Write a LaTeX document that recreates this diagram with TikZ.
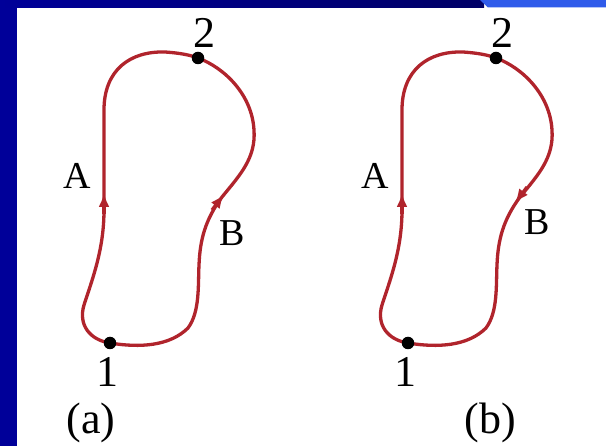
\documentclass[tikz,border=0pt]{standalone}
\usepackage{fontspec}
\setmainfont{Liberation Serif}
\usepackage{tikz}
\usetikzlibrary{arrows.meta}
\usepackage{xcolor}
\definecolor{slideBlue}{HTML}{000099}
\definecolor{slideNavy}{HTML}{000066}
\definecolor{slideLight}{HTML}{2F5BEA}
\definecolor{pathRed}{HTML}{B0242C}

\begin{document}
\begin{tikzpicture}[
    x=1pt, y=-1pt,
    curve/.style={draw=pathRed, line width=3.3pt},
    tip/.style={-{Latex[length=14pt, width=11pt]}, pathRed, line width=3.3pt},
    dot/.style={circle, fill=black, inner sep=0pt, minimum size=12.5pt},
    letter/.style={font=\fontsize{38}{42}\selectfont},
    num/.style={font=\fontsize{44}{48}\selectfont},
    caption/.style={font=\fontsize{44}{48}\selectfont}
  ]
    % slide frame
    \path[use as bounding box, fill=white] (0,0) rectangle (606,446);
    \fill[slideBlue] (0,0) rectangle (17,446);
    \shade[left color=slideBlue, right color=slideNavy] (0,0) rectangle (484,7.5);
    \fill[slideLight] (480,0) -- (488,7.5) -- (606,7.5) -- (606,0) -- cycle;

    % the two loops
    \foreach \sh/\nm in {0/a, 298/b} {
      \begin{scope}[xshift=\sh pt]
        \coordinate (one\nm) at (110,343);
        \coordinate (two\nm) at (198,58);
        \draw[curve] (one\nm) .. controls (90,340) and (78,325) .. (84,305)
          .. controls (92,280) and (104,250) .. (104,210) -- (104,110)
          .. controls (104,70) and (130,51) .. (165,52)
          .. controls (180,53) and (190,55) .. (two\nm);
        \draw[curve] (one\nm) .. controls (140,348) and (170,346) .. (188,328)
          .. controls (200,312) and (198,285) .. (199,265)
          .. controls (200,240) and (205,220) .. (222,197)
          .. controls (240,175) and (256,158) .. (254,130)
          .. controls (252,95) and (225,68) .. (two\nm);
        \draw[tip] (104,214) -- (104,193);
        \node[dot] (p1\nm) at (one\nm) {};
        \node[dot] (p2\nm) at (two\nm) {};
        \node[num] (n1\nm) at (107,372) {1};
        \node[num] (n2\nm) at (204,33) {2};
        \node[letter] (la\nm) at (77,176) {A};
      \end{scope}
    }
    \draw[tip] (212,210) -- (224,194.5);
    \draw[tip] (527,187) -- (515,203);

    % labels
    \node[letter] (lba) at (232,233) {B};
    \node[letter] (lbb) at (537,222) {B};
    \node[caption] (capa) at (91,423) {(a)};
    \node[caption] (capb) at (490,423) {(b)};
\end{tikzpicture}
\end{document}
